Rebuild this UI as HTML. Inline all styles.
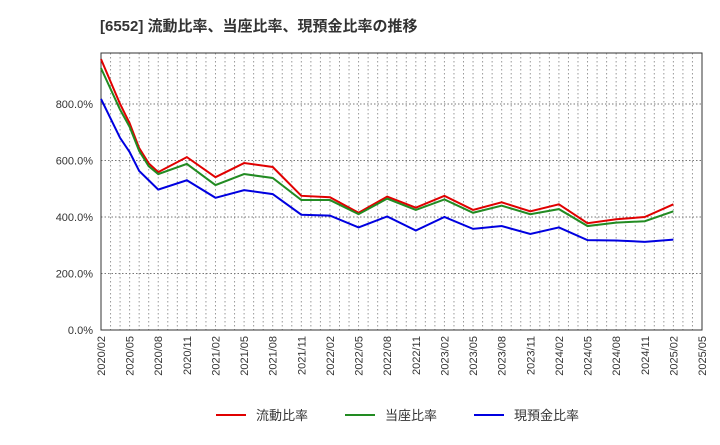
<!DOCTYPE html>
<html><head><meta charset="utf-8"><style>
body{margin:0;background:#fff;font-family:"Liberation Sans","Noto Sans CJK JP",sans-serif;}
</style></head><body>
<svg id="c" width="720" height="440" xmlns="http://www.w3.org/2000/svg">
<text x="100" y="31" font-size="15" font-weight="bold" fill="#333">[6552]  流動比率、当座比率、現預金比率の推移</text>
</svg>
<script>
const months=[0,2,3,4,5,6,9,12,15,18,21,24,27,30,33,36,39,42,45,48,51,54,57,60];
const currentRatio=[959,800,732,644,590,559,612,541,591,577,475,470,415,472,433,475,425,452,420,445,378,392,400,445];
const quickRatio=[927,780,719,634,580,552,588,513,552,538,460,460,410,465,425,462,415,440,410,428,368,380,385,420];
const cashRatio=[818,680,630,563,530,497,530,468,495,481,408,405,363,402,352,400,358,368,340,363,318,317,312,320];
const yTicks=[0,200,400,600,800];
const xTickLabels=[];
for(let y=2020;y<=2025;y++)for(const m of [2,5,8,11]){if(y===2025&&m>5)break;xTickLabels.push(y+'/'+String(m).padStart(2,'0'));}
const svg=document.getElementById('c');const NS='http://www.w3.org/2000/svg';
const L=101,R=702,T=53,B=330;
const xs=m=>L+m*(R-L)/63;const ys=v=>B-v*(B-104)/800;
function mk(t,a){const e=document.createElementNS(NS,t);for(const k in a)e.setAttribute(k,a[k]);svg.appendChild(e);return e;}
for(let m=0;m<=63;m++){const g=mk('line',{x1:xs(m),x2:xs(m),y1:T,y2:B,stroke:'#999','stroke-dasharray':'1.5,2.5','stroke-width':1});

}
yTicks.forEach(v=>{const g=mk('line',{x1:L,x2:R,y1:ys(v),y2:ys(v),stroke:'#777','stroke-dasharray':'1.5,2','stroke-width':1});


const t=mk('text',{x:L-8,y:ys(v)+4,'text-anchor':'end','font-size':11,fill:'#333'});t.textContent=v.toFixed(1)+'%';

});
xTickLabels.forEach((s,i)=>{const x=xs(i*3);const t=mk('text',{x:x+4,y:B+6,'text-anchor':'end','font-size':11,fill:'#333',transform:`rotate(-90 ${x+4} ${B+6})`});t.textContent=s;

});
const fr=mk('rect',{x:L,y:T,width:R-L,height:B-T,fill:'none',stroke:'#333','stroke-width':1});


const series=[[currentRatio,'#e00000','current-ratio-line'],[quickRatio,'#228b22','quick-ratio-line'],[cashRatio,'#0000e0','cash-ratio-line']];
series.forEach(([d,c,n])=>{const p=mk('polyline',{points:d.map((v,i)=>xs(months[i])+','+ys(v)).join(' '),fill:'none',stroke:c,'stroke-width':2});

});
const leg=[['流動比率','#e00000',216],['当座比率','#228b22',345],['現預金比率','#0000e0',474]];
leg.forEach(([s,c,x])=>{const l=mk('line',{x1:x,x2:x+30,y1:415,y2:415,stroke:c,'stroke-width':2});


const t=mk('text',{x:x+40,y:420,'font-size':13,fill:'#333'});t.textContent=s;

});
</script>
</body></html>
